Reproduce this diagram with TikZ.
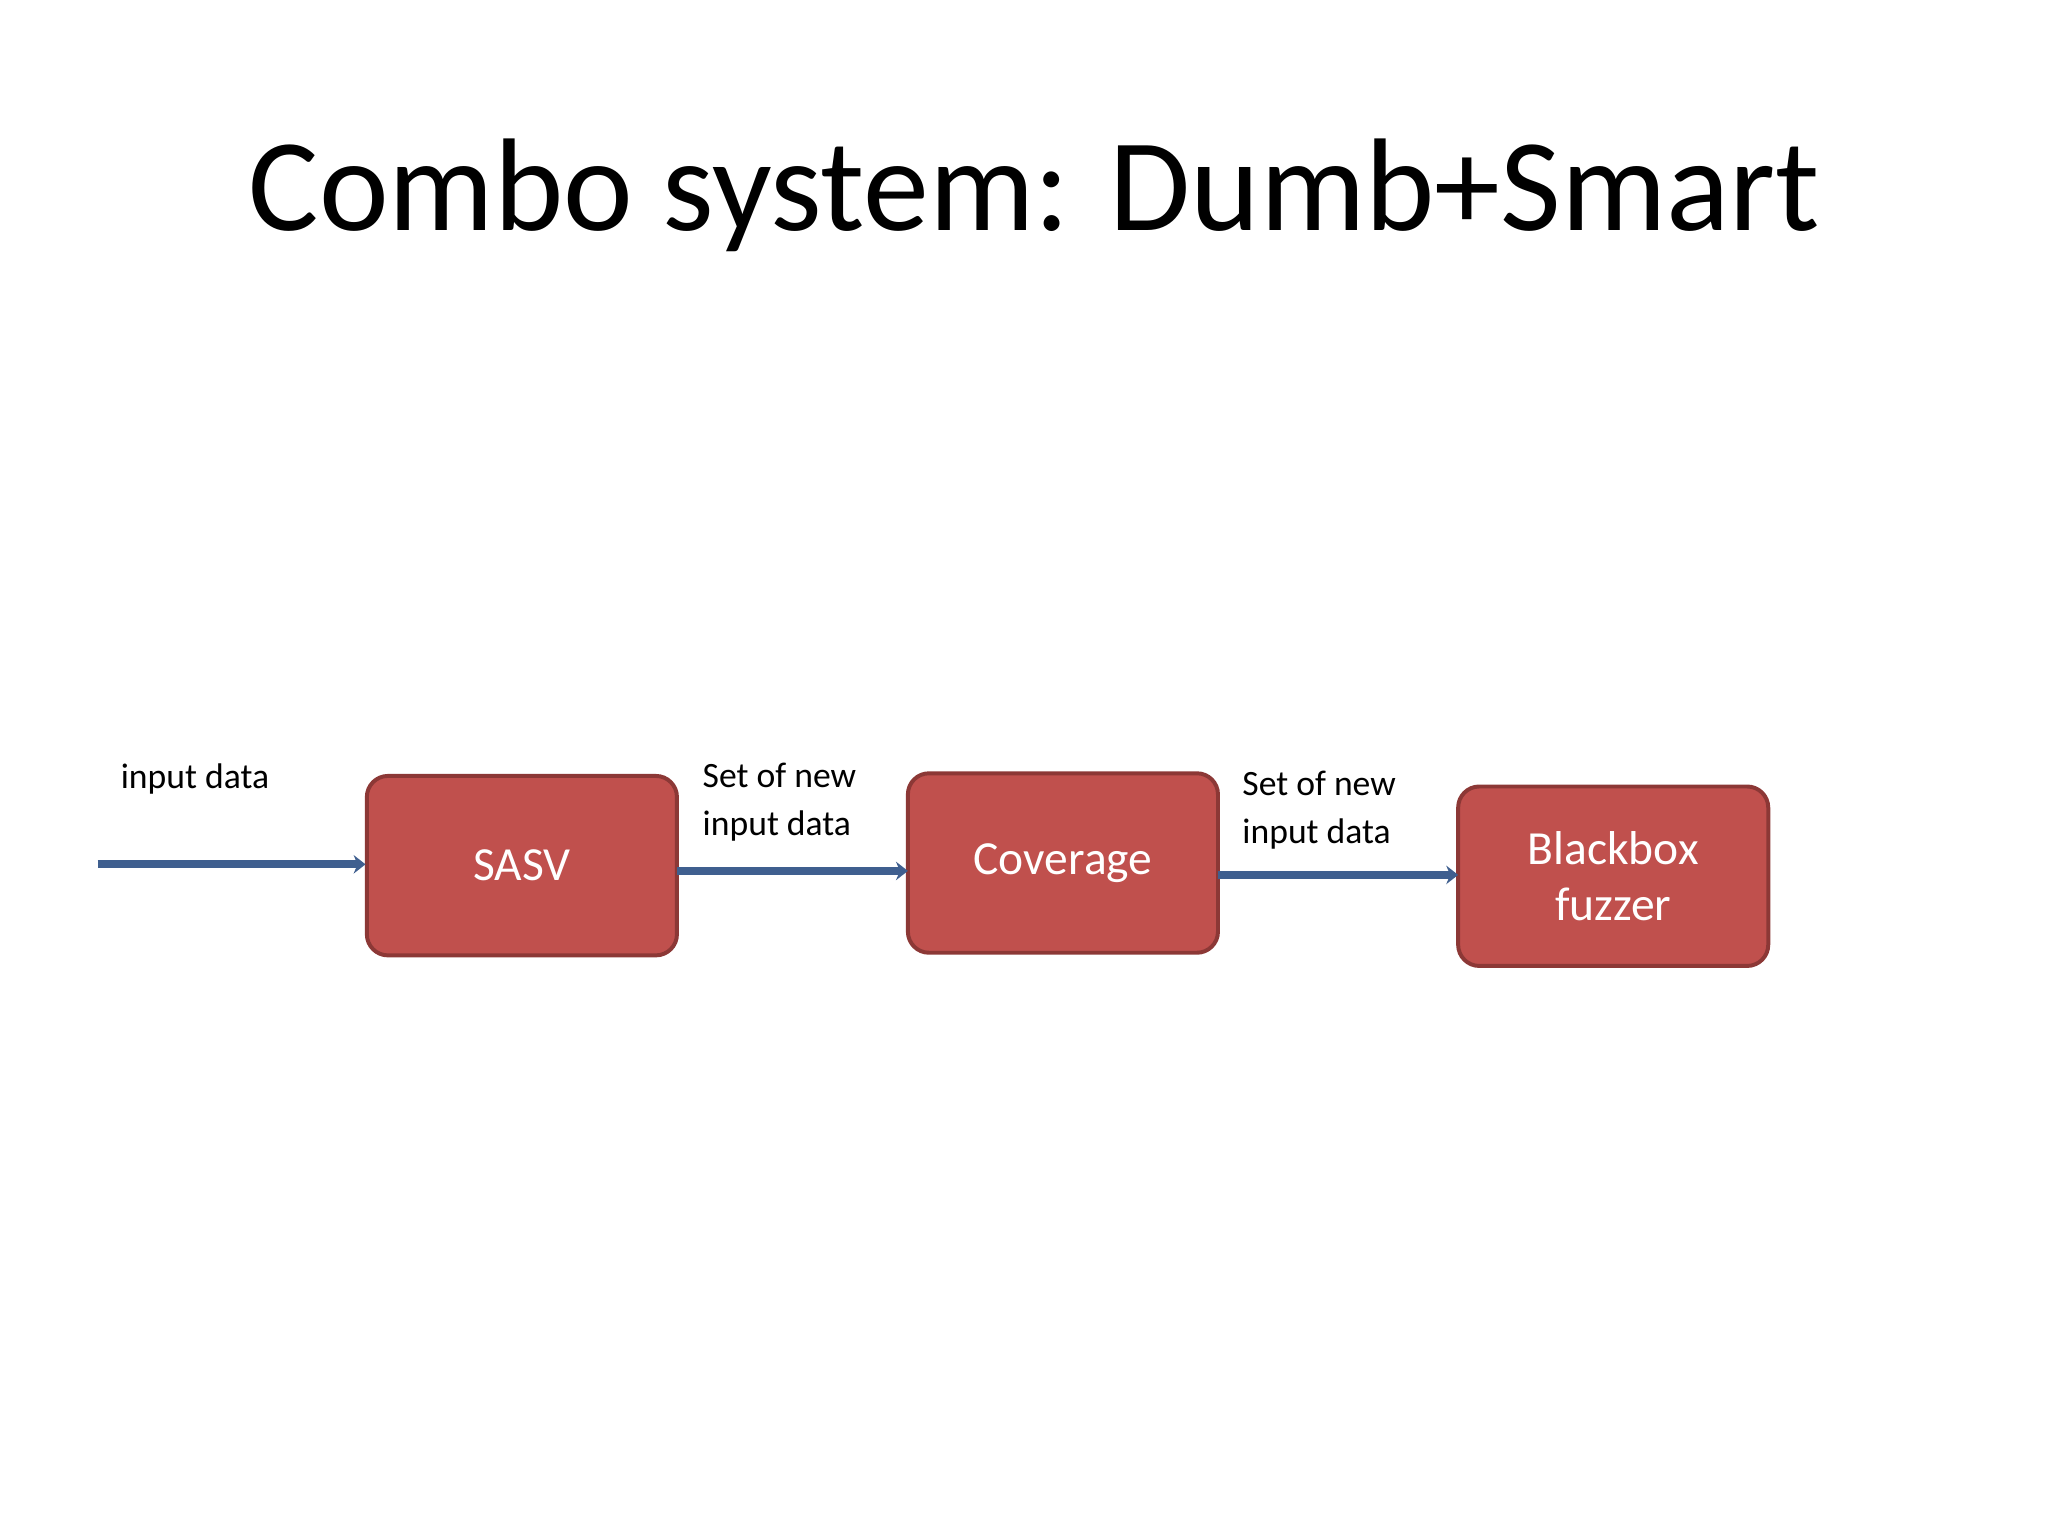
\documentclass[tikz,border=0pt]{standalone}
\usepackage{fontspec}
\setmainfont{Carlito}
\usetikzlibrary{arrows.meta}
\definecolor{boxfill}{HTML}{C0504D}
\definecolor{boxline}{HTML}{8C3836}
\definecolor{arrowc}{HTML}{3F5F8F}
\begin{document}
\begin{tikzpicture}[x=1pt,y=-1pt,
  blk/.style={draw=boxline,line width=3pt,fill=boxfill,rounded corners=16pt,text=white,font=\fontsize{36}{42}\selectfont,align=center},
  conn/.style={draw=arrowc,line width=6pt,-{Stealth[length=9pt,width=14pt]}},
  lbl/.style={font=\fontsize{27}{36}\selectfont,align=left,anchor=west}]
\useasboundingbox (0,0) rectangle (1552,1164);
\node[font=\fontsize{100}{110}\selectfont] (title) at (784,148) {Combo system: Dumb+Smart};
\path[blk] (278,588) rectangle (513,724); \node[text=white,font=\fontsize{36}{42}\selectfont] (sasv) at (395.5,656) {SASV};
\path[blk] (688,586) rectangle (923,722); \node[text=white,font=\fontsize{36}{42}\selectfont] (cov) at (805.5,654) {Coverage};
\path[blk] (1105,596) rectangle (1340,732); \node[text=white,font=\fontsize{36}{42}\selectfont,align=center] (bb) at (1222.5,664) {Blackbox\\fuzzer};
\coordinate (start) at (74,655);
\coordinate (s1) at (277,655);
\coordinate (s2a) at (513,660);
\coordinate (s2b) at (688,660);
\coordinate (s3a) at (923,663);
\coordinate (s3b) at (1105,663);
\draw[conn] (start) -- (s1);
\draw[conn] (s2a) -- (s2b);
\draw[conn] (s3a) -- (s3b);
\node[lbl] (l1) at (88,590) {input data};
\node[lbl] (l2) at (529,608) {Set of new\\input data};
\node[lbl] (l3) at (938,614) {Set of new\\input data};
\end{tikzpicture}
\end{document}
